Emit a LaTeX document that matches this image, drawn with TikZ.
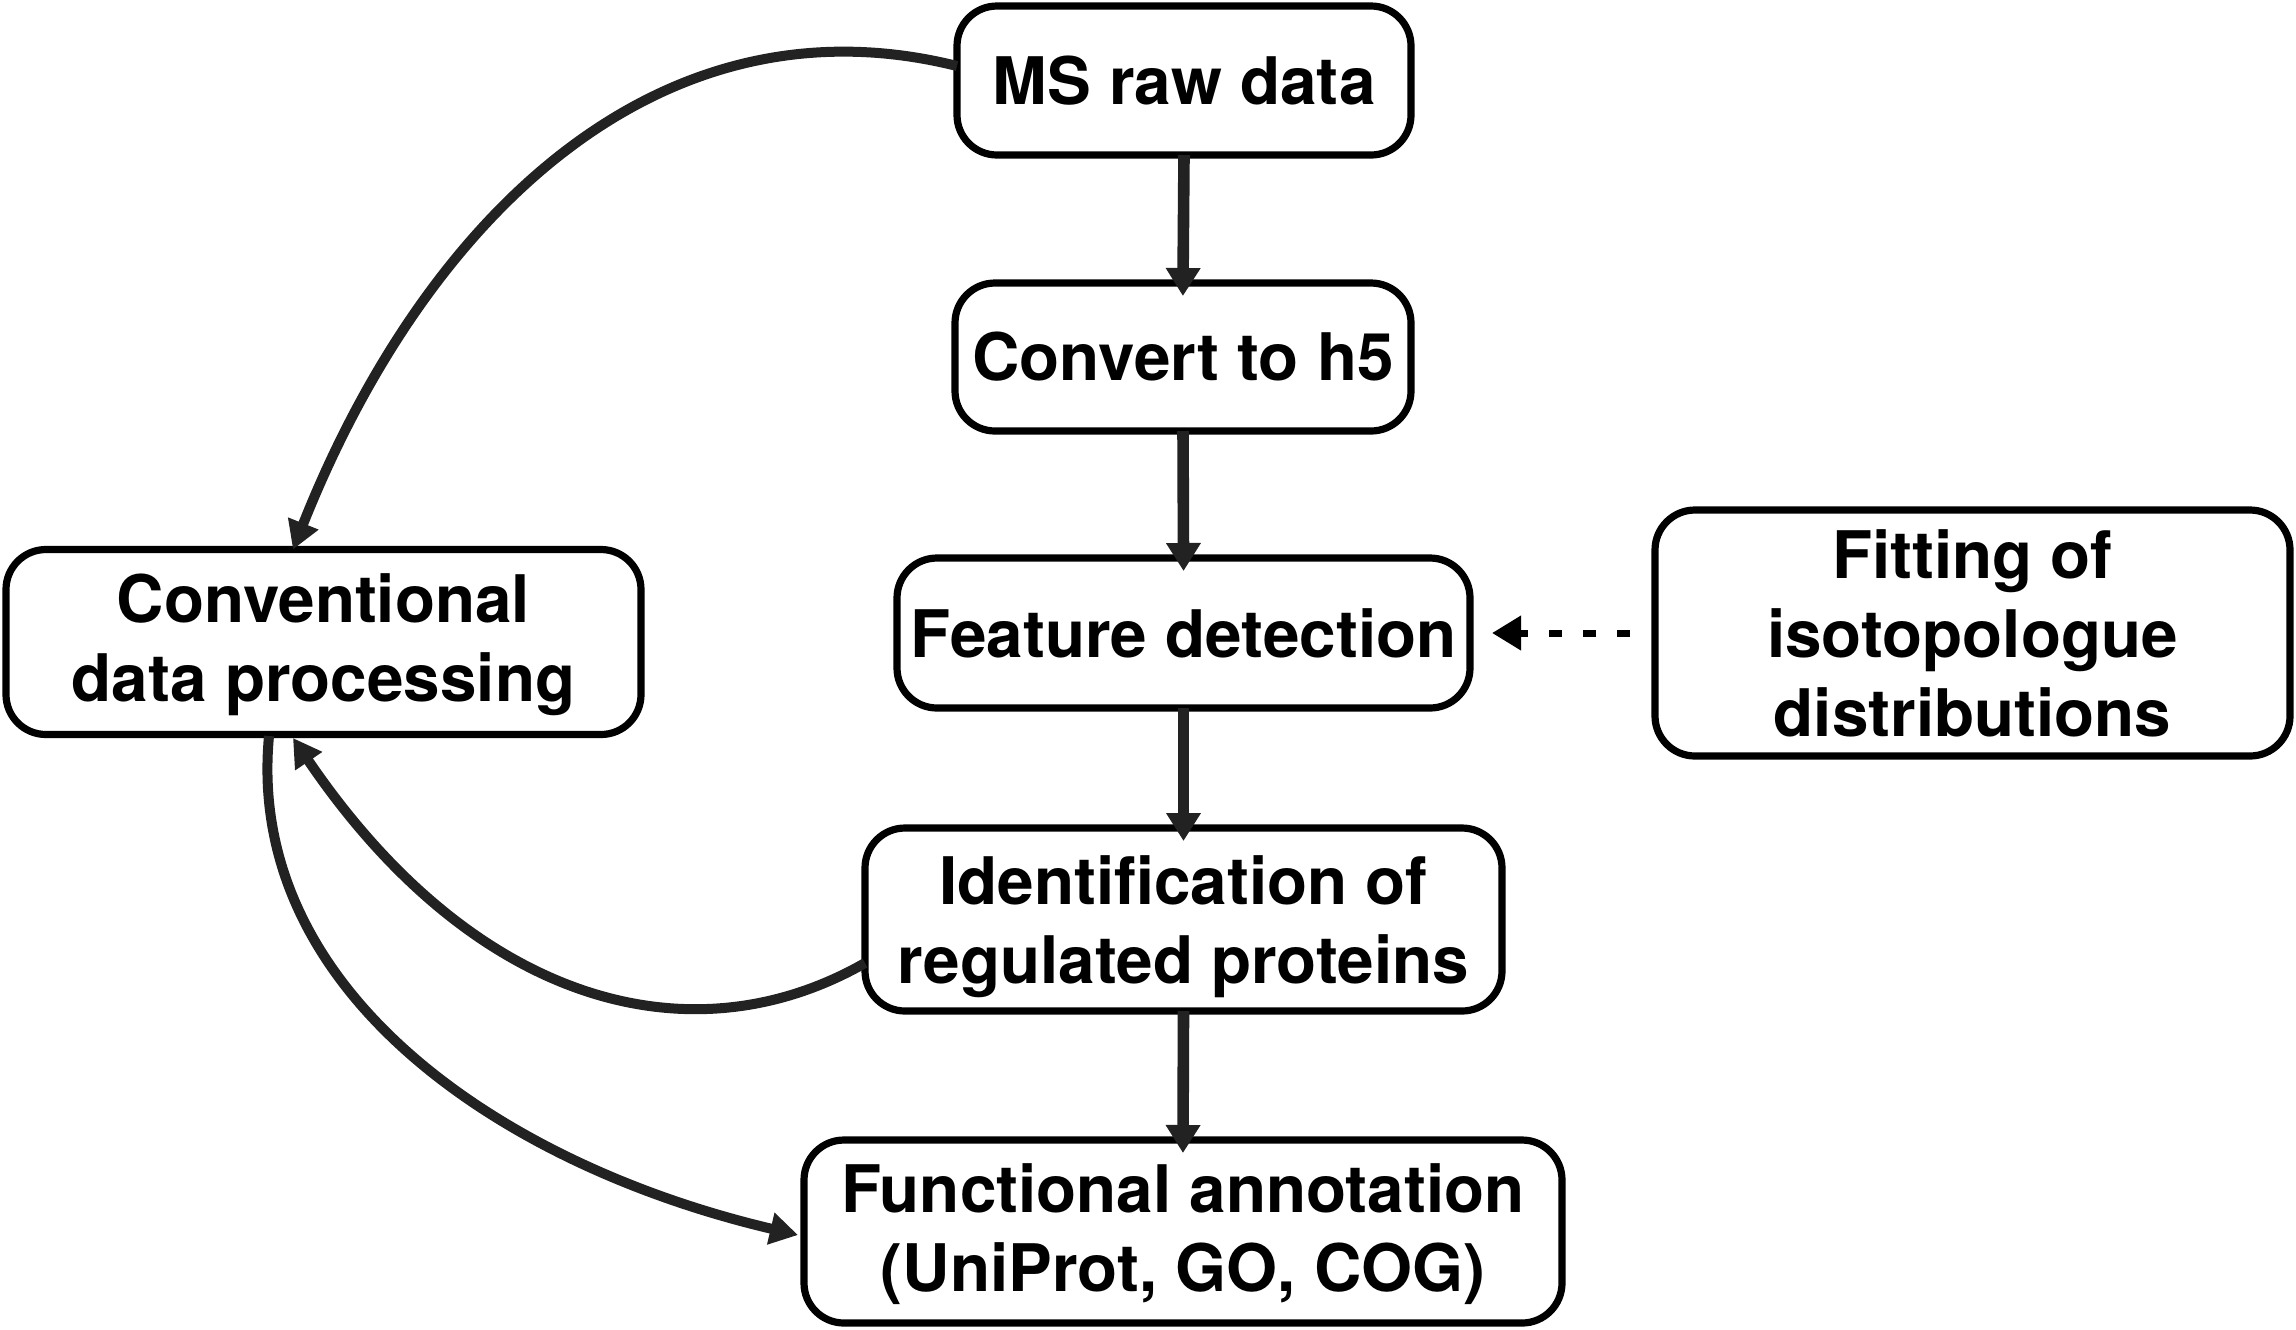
\documentclass[tikz,border=0pt]{standalone}
\usepackage{fontspec}
\setmainfont{TeX Gyre Heros}
\usetikzlibrary{arrows.meta,calc}
\definecolor{arr}{HTML}{222222}
\begin{document}
\begin{tikzpicture}[x=0.5pt,y=-0.5pt,
  box/.style={draw=black, line width=3.6pt, rounded corners=20pt, inner sep=0pt, outer sep=0pt,
    align=center, font=\fontsize{32.8pt}{39.5pt}\selectfont\bfseries, fill=white},
  twoline/.style={text depth=#1},
  twoline/.default=0pt,
  vflow/.style={draw=arr, line width=5.8pt, -{Triangle[length=14pt,width=16.5pt]}, shorten >=-6.5pt},
  cflow/.style={draw=arr, line width=5pt, -{Triangle[length=14pt,width=15.5pt]}},
  dflow/.style={draw=black, line width=3.5pt, dash pattern=on 6.75pt off 10.25pt,
    -{Triangle[length=14.5pt,width=16.5pt]}, shorten <=12.5pt, shorten >=11pt}
]
\useasboundingbox (0,0) rectangle (2296,1329);

\node[box, minimum width=227pt, minimum height=74.5pt] (ms) at (1184,80.5) {MS raw data};
\node[box, minimum width=228pt, minimum height=74pt] (h5) at (1183,357) {Convert to h5};
\node[box, minimum width=286.5pt, minimum height=75pt] (feat) at (1183.5,633) {Feature detection};
\node[box, twoline, minimum width=318.5pt, minimum height=91.5pt] (ident) at (1183.5,919.5) {Identification of\\regulated proteins};
\node[box, twoline=4.4pt, minimum width=379pt, minimum height=91.5pt] (func) at (1183,1231.5) {Functional annotation\\(UniProt, GO, COG)};
\node[box, twoline=4.4pt, minimum width=317.5pt, minimum height=92.5pt] (conv) at (323.5,642) {Conventional\\data processing};
\node[box, minimum width=317.5pt, minimum height=123pt] (fit) at (1972.5,633) {Fitting of\\isotopologue\\distributions};

\draw[vflow] (ms.south) -- (h5.north);
\draw[vflow] (h5.south) -- (feat.north);
\draw[vflow] (feat.south) -- (ident.north);
\draw[vflow] (ident.south) -- (func.north);

\draw[dflow] (fit.west) -- (feat.east);

\draw[cflow] ($(ms.west)+(0,-14.5)$) .. controls +(-300,-75) and +(131,-330) .. ($(conv.north)+(-30.5,0)$);
\draw[cflow] ($(ident.west)+(0,43.5)$) .. controls +(-175,100) and +(180,265) .. ($(conv.south)+(-30.5,3.5)$);
\draw[cflow] ($(conv.south)+(-54.5,1.5)$) .. controls +(-24,254) and +(-298,-70) .. ($(func.west)+(-6,3.5)$);
\end{tikzpicture}
\end{document}
